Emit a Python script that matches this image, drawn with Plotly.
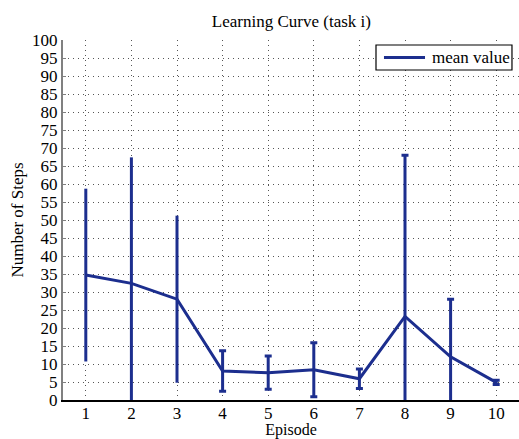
import plotly.graph_objects as go

# Episode numbers and per-episode statistics
episodes = [1, 2, 3, 4, 5, 6, 7, 8, 9, 10]
mean_steps = [34.7, 32.4, 28.0, 8.05, 7.6, 8.4, 5.9, 23.2, 12.0, 4.9]
std_steps = [24.0, 35.0, 23.2, 5.6, 4.6, 7.5, 2.7, 44.8, 16.0, 0.6]

# First three episodes are drawn without caps on their error bars
no_cap_idx = [0, 1, 2]
cap_idx = [3, 4, 5, 6, 7, 8, 9]

y_ticks = list(range(0, 101, 5))

line_color = "#1c2e8e"
serif = "Liberation Serif"
fs = 17
series_name = "mean value"

fig = go.Figure()

for idx, cap_w in ((no_cap_idx, 0), (cap_idx, 3.5)):
    fig.add_trace(go.Scatter(
        x=[episodes[i] for i in idx],
        y=[mean_steps[i] for i in idx],
        mode="markers",
        marker=dict(size=0.1, color=line_color, opacity=0),
        error_y=dict(type="data", array=[std_steps[i] for i in idx],
                     symmetric=True, color=line_color, thickness=3, width=cap_w),
        showlegend=False,
        hoverinfo="skip",
    ))

fig.add_trace(go.Scatter(
    x=episodes,
    y=mean_steps,
    mode="lines",
    line=dict(color=line_color, width=3),
    name=series_name,
    showlegend=False,
))

# Compact boxed legend in the upper-right corner of the plot area
fig.add_shape(type="rect", xref="paper", yref="paper",
              x0=0.6864, x1=0.9846, y0=0.9167, y1=0.9861,
              line=dict(color="black", width=1.2), fillcolor="white", layer="above")
fig.add_shape(type="line", xref="paper", yref="paper",
              x0=0.7039, x1=0.7939, y0=0.9514, y1=0.9514,
              line=dict(color=line_color, width=3), layer="above")
fig.add_annotation(text=series_name, xref="paper", yref="paper",
                   x=0.8048, y=0.9514, xanchor="left", yanchor="middle",
                   showarrow=False,
                   font=dict(family=serif, size=fs, color="black"))

fig.update_layout(
    width=519,
    height=439,
    margin=dict(l=63, r=0, t=40, b=39),
    paper_bgcolor="white",
    plot_bgcolor="white",
    font=dict(family=serif, size=fs, color="black"),
    title=dict(text="Learning Curve (task i)", x=0.5615, xanchor="center",
               y=1 - 21 / 439, yanchor="middle",
               font=dict(family=serif, size=fs, color="black")),
    showlegend=False,
)

fig.update_xaxes(
    range=[0.5, 10.5],
    tickmode="array",
    tickvals=episodes,
    ticktext=[str(e) for e in episodes],
    tickfont=dict(family=serif, size=fs, color="black"),
    ticklabelstandoff=-3,
    showgrid=True,
    gridcolor="#555555",
    gridwidth=1,
    griddash="1px,4px",
    showline=True,
    linecolor="black",
    linewidth=1.5,
    ticks="",
    zeroline=False,
    title=dict(text="Episode", standoff=3,
               font=dict(family=serif, size=16, color="black")),
)

fig.update_yaxes(
    range=[0, 100],
    tickmode="array",
    tickvals=y_ticks,
    ticktext=[str(v) for v in y_ticks],
    tickfont=dict(family=serif, size=fs, color="black"),
    showgrid=True,
    gridcolor="#555555",
    gridwidth=1,
    griddash="1px,4px",
    showline=True,
    linecolor="#808080",
    linewidth=2,
    ticks="inside",
    ticklen=3,
    tickcolor="#808080",
    zeroline=False,
    title=dict(text="Number of Steps", standoff=4,
               font=dict(family=serif, size=fs, color="black")),
)

fig.write_html("out.html")
